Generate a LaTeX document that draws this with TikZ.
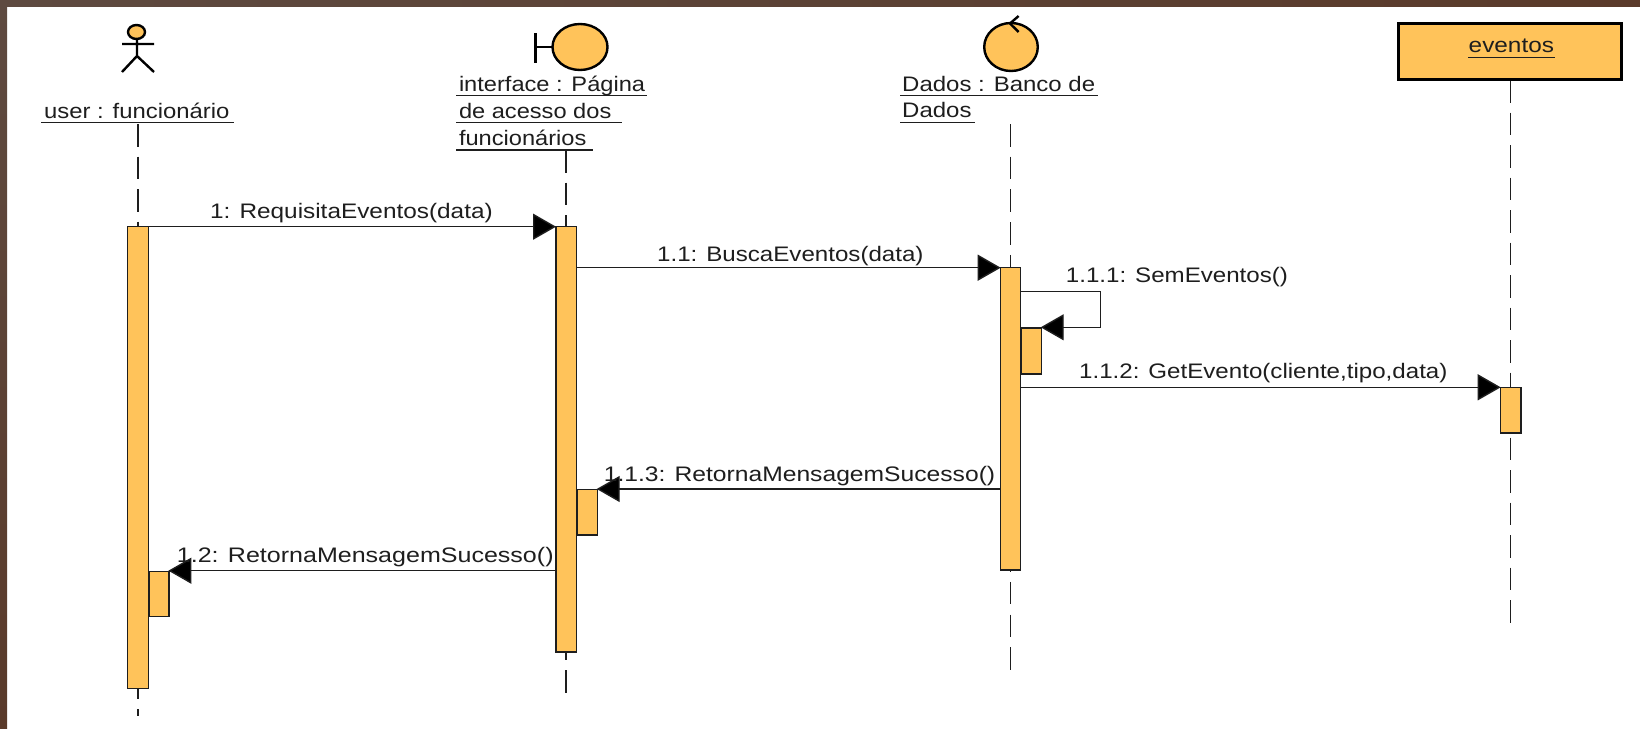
\documentclass[tikz,border=0pt]{standalone}
\usepackage{fontspec}
\setmainfont[FakeStretch=1.16]{Liberation Sans}
\usetikzlibrary{arrows.meta}
\definecolor{frametop}{HTML}{5E4A40}
\definecolor{framebot}{HTML}{5A3A2A}
\definecolor{barfill}{HTML}{FFC35A}
\definecolor{ink}{HTML}{1E1E1E}
\tikzset{
  x=1pt,y=-1pt,
  lifeline/.style={draw=ink,line width=1.5pt,dash pattern=on 22.5pt off 10pt},
  bar/.style={draw=ink,fill=barfill,line width=1.4pt},
  msg/.style={draw=ink,line width=1.4pt,-{Triangle[length=23pt,width=26pt,fill=black]}},
  txt/.style={font=\fontsize{21}{24}\selectfont,text=ink,inner sep=0pt,anchor=base west},
  tuned/.style={transform shape,xscale=#1},
  rule/.style={draw=ink,line width=1.4pt},
  shapeline/.style={draw=black,line width=2.4pt},
}
\begin{document}
\begin{tikzpicture}
\useasboundingbox (0,0) rectangle (1640,728);
\fill[white] (0,0) rectangle (1640,728);
\shade[left color=frametop,right color=framebot] (0,0) rectangle (1640,6);
\shade[top color=frametop,bottom color=framebot] (0,0) rectangle (7,728);
% lifelines
\coordinate (l1top) at (138,124);
\coordinate (l1end) at (138,716);
\coordinate (l2top) at (566,150);
\coordinate (l2end) at (566,696);
\coordinate (l3top) at (1010.5,124);
\coordinate (l3end) at (1010.5,670);
\coordinate (l4top) at (1510.7,80);
\coordinate (l4end) at (1510.7,624);
\draw[lifeline] (l1top) -- (l1end);
\draw[lifeline] (l2top) -- (l2end);
\draw[lifeline,dash pattern=on 22.5pt off 10.2pt] (l3top) -- (l3end);
\draw[lifeline] (l4top) -- (l4end);
% actor
\draw[shapeline,fill=barfill] (136.5,32) circle[x radius=8.5,y radius=7];
\draw[shapeline] (137,39) -- (137,56) (122,44) -- (154,44) (122,72) -- (137,56) -- (154,72);
% boundary
\draw[shapeline,fill=barfill] (580,47) circle[x radius=27.5,y radius=23];
\draw[shapeline] (535.5,33) -- (535.5,63) (535.5,47) -- (552.5,47);
% control
\draw[shapeline,fill=barfill] (1011,47) circle[x radius=26.8,y radius=24];
\draw[shapeline] (1018.6,16) -- (1010,23.5) -- (1018.6,32);
% entity box
\node[draw=black,fill=barfill,line width=3pt,minimum width=223pt,minimum height=56pt,inner sep=0pt] (evbox) at (1510.2,51.3) {};
% header labels
\node[txt,tuned=0.98] (t1) at (44,118) {user : funcionário};
\draw[rule] (41,122.7) -- (233.6,122.7);
\node[txt,tuned=0.97] (t2a) at (458.8,91.5) {interface : Página};
\draw[rule] (456,95.7) -- (647,95.7);
\node[txt,tuned=0.97] (t2b) at (458.8,118) {de acesso dos};
\draw[rule] (456,122.7) -- (621.6,122.7);
\node[txt,tuned=0.97] (t2c) at (458.8,145) {funcionários};
\draw[rule] (456,150) -- (593.4,150);
\node[txt,tuned=0.985] (t3a) at (902,91) {Dados : Banco de};
\draw[rule] (900,95.5) -- (1097.6,95.5);
\node[txt,tuned=0.985] (t3b) at (902,117.5) {Dados};
\draw[rule] (900,122.7) -- (975,122.7);
\node[txt] (t4) at (1468.5,52) {eventos};
\draw[rule] (1468,57.3) -- (1555,57.3);
% activations
\node[bar,minimum width=20.5pt,minimum height=461.6pt,inner sep=0pt] (a1) at (138,457.5) {};
\node[bar,minimum width=20pt,minimum height=45pt,inner sep=0pt,anchor=north west] (a1s) at (148.4,570.7) {};
\node[bar,minimum width=20.5pt,minimum height=425.3pt,inner sep=0pt] (a2) at (566.4,439.3) {};
\node[bar,minimum width=20pt,minimum height=45.3pt,inner sep=0pt,anchor=north west] (a2s) at (576.7,489) {};
\node[bar,minimum width=20pt,minimum height=302.3pt,inner sep=0pt] (a3) at (1010.7,418.8) {};
\node[bar,minimum width=20pt,minimum height=46pt,inner sep=0pt,anchor=north west] (a3s) at (1020.7,327.3) {};
\node[bar,minimum width=20.3pt,minimum height=45.7pt,inner sep=0pt] (a4) at (1510.8,410.2) {};
% messages
\coordinate (m1s) at (148.2,226.7); \coordinate (m1e) at (556,226.7);
\coordinate (m2s) at (576.7,267.7); \coordinate (m2e) at (1000.7,267.7);
\coordinate (m3s) at (1020.7,291.3); \coordinate (m3a) at (1100.7,291.3); \coordinate (m3b) at (1100.7,327.3); \coordinate (m3e) at (1040.7,327.3);
\coordinate (m4s) at (1020.7,387.3); \coordinate (m4e) at (1500.7,387.3);
\coordinate (m5s) at (1000.7,489); \coordinate (m5e) at (596.7,489);
\coordinate (m6s) at (556,570.7); \coordinate (m6e) at (168.4,570.7);
\draw[msg] (m1s) -- (m1e);
\draw[msg] (m2s) -- (m2e);
\draw[msg] (m3s) -- (m3a) -- (m3b) -- (m3e);
\draw[msg] (m4s) -- (m4e);
\draw[msg] (m5s) -- (m5e);
\draw[msg] (m6s) -- (m6e);
\node[txt] (l1) at (210,218) {1: RequisitaEventos(data)};
\node[txt,tuned=0.99] (l2) at (657,261) {1.1: BuscaEventos(data)};
\node[txt,tuned=0.99] (l3) at (1065.7,282.7) {1.1.1: SemEventos()};
\node[txt,tuned=0.99] (l4) at (1079,378) {1.1.2: GetEvento(cliente,tipo,data)};
\node[txt,tuned=1.012] (l5) at (603.6,481) {1.1.3: RetornaMensagemSucesso()};
\node[txt,tuned=1.028] (l6) at (176.7,562.7) {1.2: RetornaMensagemSucesso()};
\end{tikzpicture}
\end{document}
